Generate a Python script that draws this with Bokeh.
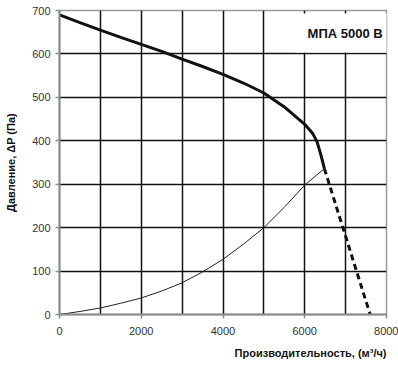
from bokeh.plotting import figure
from bokeh.models import Range1d, FixedTicker, Label, Title
from bokeh.embed import file_html
from bokeh.resources import INLINE

# Fan curve (solid, thick)
flow_main = [0, 500, 1000, 1500, 2000, 2500, 3000, 3500, 4000, 4500, 5000, 5500, 6000, 6200, 6300, 6400, 6480]
pressure_main = [690, 672, 655, 638, 622, 606, 588, 571, 553, 533, 510, 478, 438, 416, 398, 366, 336]

# Fan curve continuation (dashed)
flow_dash = [6480, 7600]
pressure_dash = [336, 0]

# System / network curve (thin)
flow_sys = [0, 500, 1000, 1500, 2000, 2500, 3000, 3500, 4000, 4500, 5000, 5500, 6000, 6480]
pressure_sys = [0, 7, 15, 26, 38, 54, 73, 98, 127, 162, 200, 247, 298, 336]

x_ticks = [0, 2000, 4000, 6000, 8000]
x_grid = [1000, 2000, 3000, 4000, 5000, 6000, 7000, 8000]
y_ticks = [0, 100, 200, 300, 400, 500, 600, 700]

title_text = "МПА 5000 В"
x_label = "Производительность, (м³/ч)"
y_label = "Давление, ΔP (Па)"

FONT = "Liberation Sans"

p = figure(width=398, height=368, output_backend="svg", toolbar_location=None,
           x_range=Range1d(0, 8000), y_range=Range1d(0, 700),
           min_border_left=59, min_border_right=12, min_border_top=10, min_border_bottom=54)

p.background_fill_color = "white"
p.border_fill_color = "white"
p.outline_line_color = "#9a9a9a"
p.outline_line_width = 1.5

p.xgrid.ticker = FixedTicker(ticks=x_grid)
p.ygrid.ticker = FixedTicker(ticks=y_ticks)
for g in (p.xgrid, p.ygrid):
    g.grid_line_color = "#111111"
    g.grid_line_width = 1.5

p.xaxis.ticker = FixedTicker(ticks=x_ticks)
p.yaxis.ticker = FixedTicker(ticks=y_ticks)
for ax in (p.xaxis, p.yaxis):
    ax.axis_line_color = "#8a8a8a"
    ax.axis_line_width = 2
    ax.major_tick_line_color = "#8a8a8a"
    ax.major_tick_line_width = 1.5
    ax.major_tick_out = 4
    ax.major_tick_in = 0
    ax.minor_tick_line_color = None
    ax.major_label_text_font = FONT
    ax.major_label_text_font_size = "11px"
    ax.major_label_text_color = "#333333"
    ax.axis_label_text_font = FONT
    ax.axis_label_text_font_size = "11px"
    ax.axis_label_text_font_style = "bold"
    ax.axis_label_text_color = "#111111"

p.xaxis.major_label_standoff = 8
p.yaxis.axis_label = y_label
p.yaxis.major_label_standoff = 5
p.yaxis.axis_label_standoff = 12

xt = Title(text=x_label, align="right", text_font=FONT, text_font_size="11px",
           text_font_style="bold", text_color="#111111", standoff=14, offset=0)
p.add_layout(xt, "below")

p.line(flow_sys, pressure_sys, line_color="#222222", line_width=1)
p.line(flow_main, pressure_main, line_color="#111111", line_width=3)
p.line(flow_dash, pressure_dash, line_color="#111111", line_width=3, line_dash="6 4")

lbl = Label(x=5775, y=648, text=title_text, text_align="left", text_baseline="middle",
            text_font=FONT, text_font_size="13px", text_font_style="bold", text_color="#111111",
            background_fill_color="white", padding=12)
p.add_layout(lbl)

open("out.html", "w").write(file_html(p, INLINE))
